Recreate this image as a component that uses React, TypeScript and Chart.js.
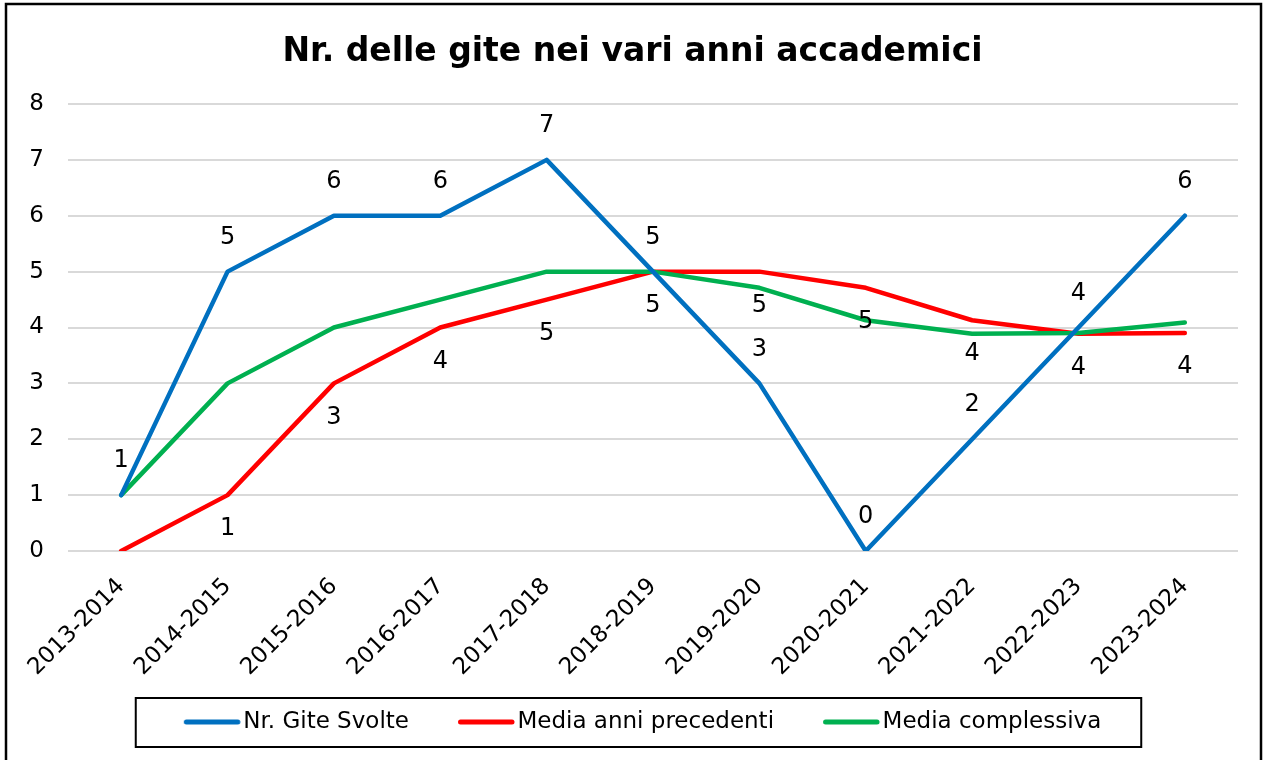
import React, { useEffect, useRef } from "react";
import { Chart, registerables } from "chart.js";

Chart.register(...registerables);

const categories = [
  "2013-2014", "2014-2015", "2015-2016", "2016-2017", "2017-2018", "2018-2019",
  "2019-2020", "2020-2021", "2021-2022", "2022-2023", "2023-2024",
];
const giteSvolte = [1, 5, 6, 6, 7, 5, 3, 0, 2, 4, 6];
const mediaPrecedenti = [0, 1, 3, 4, 4.5, 5, 5, 4.71, 4.13, 3.89, 3.9];
const mediaComplessiva = [1, 3, 4, 4.5, 5, 5, 4.71, 4.13, 3.89, 3.9, 4.09];
const giteLabels = ["1", "5", "6", "6", "7", "5", "3", "0", "2", "4", "6"];
const precedentiLabels = ["", "1", "3", "4", "5", "5", "5", "5", "4", "4", "4"];
const seriesNames = ["Nr. Gite Svolte", "Media anni precedenti", "Media complessiva"];
const yMin = 0;
const yMax = 8;
const yStep = 1;
const titleText = "Nr. delle gite nei vari anni accademici";

const BLUE = "#0070C0";
const RED = "#FF0000";
const GREEN = "#00B050";
const FONT = "'DejaVu Sans', Verdana, sans-serif";

const SAMPLE_GAP = 20; // blank space before each legend line sample
const BOX_W = 68;

function makeSample(color: string) {
  // image is centred on (x + BOX_W/2) = x + 34; canvas 160 wide spans x-46 .. x+114
  const c = document.createElement("canvas");
  c.width = 160;
  c.height = 8;
  const g = c.getContext("2d")!;
  g.strokeStyle = color;
  g.lineWidth = 5;
  g.lineCap = "round";
  g.beginPath();
  g.moveTo(66 + 2.5, 4);
  g.lineTo(122.5 - 2.5, 4);
  g.stroke();
  return c;
}

const decorPlugin = {
  id: "decor",
  beforeDraw(chart: any) {
    const ctx = chart.ctx;
    ctx.save();
    ctx.fillStyle = "#ffffff";
    ctx.fillRect(0, 0, chart.width, chart.height);
    ctx.restore();
  },
  afterDatasetsDraw(chart: any) {
    const ctx = chart.ctx;
    ctx.save();
    ctx.font = `24px ${FONT}`;
    ctx.fillStyle = "#000000";
    ctx.textAlign = "center";
    ctx.textBaseline = "middle";
    const m0 = chart.getDatasetMeta(0);
    m0.data.forEach((pt: any, i: number) => {
      const t = giteLabels[i];
      if (t) ctx.fillText(t, pt.x, pt.y - 34);
    });
    const m1 = chart.getDatasetMeta(1);
    m1.data.forEach((pt: any, i: number) => {
      const t = precedentiLabels[i];
      if (t) ctx.fillText(t, pt.x, pt.y + 34);
    });
    ctx.restore();
  },
  afterDraw(chart: any) {
    const ctx = chart.ctx;
    ctx.save();
    const hb = chart.legend && chart.legend.legendHitBoxes;
    if (hb && hb.length) {
      const first = hb[0];
      const last = hb[hb.length - 1];
      const cy = first.top + first.height / 2;
      const left = first.left + SAMPLE_GAP - 48;
      const right = last.left + last.width + 40;
      ctx.strokeStyle = "#000000";
      ctx.lineWidth = 2;
      ctx.strokeRect(left, cy - 24, right - left, 49);
    }
    ctx.strokeStyle = "#000000";
    ctx.lineWidth = 2.5;
    ctx.strokeRect(6, 4, chart.width - 8, chart.height + 20);
    ctx.restore();
  },
};

export default function App() {
  const ref = useRef<HTMLCanvasElement | null>(null);
  useEffect(() => {
    if (!ref.current) return;
    const lineCommon = {
      borderWidth: 4.5,
      pointRadius: 0,
      pointHoverRadius: 0,
      tension: 0,
      borderCapStyle: "round",
      borderJoinStyle: "round",
      fill: false,
    };
    const chart = new Chart(ref.current, {
      type: "line",
      data: {
        labels: categories,
        datasets: [
          { ...lineCommon, label: seriesNames[0], data: giteSvolte, borderColor: BLUE, backgroundColor: BLUE, pointStyle: makeSample(BLUE), order: 0 },
          { ...lineCommon, label: seriesNames[1], data: mediaPrecedenti, borderColor: RED, backgroundColor: RED, pointStyle: makeSample(RED), order: 2 },
          { ...lineCommon, label: seriesNames[2], data: mediaComplessiva, borderColor: GREEN, backgroundColor: GREEN, pointStyle: makeSample(GREEN), order: 1 },
        ],
      } as any,
      options: {
        responsive: false,
        animation: false,
        events: [],
        layout: { padding: { left: 2, right: 0, top: 0, bottom: 16.5 } },
        plugins: {
          tooltip: { enabled: false },
          title: {
            display: true,
            text: titleText,
            color: "#000000",
            font: { family: FONT, size: 33, weight: "bold" },
            padding: { top: 32.2, bottom: 32.2 },
          },
          legend: {
            display: true,
            position: "bottom",
            labels: {
              color: "#000000",
              font: { family: FONT, size: 23 },
              usePointStyle: true,
              pointStyleWidth: BOX_W,
              padding: 29,
              sort: (a: any, b: any) => a.datasetIndex - b.datasetIndex,
            },
          },
        },
        scales: {
          x: {
            offset: true,
            grid: { display: false, drawTicks: false },
            border: { display: false },
            ticks: {
              color: "#000000",
              font: { family: FONT, size: 23 },
              maxRotation: 45,
              minRotation: 45,
              padding: 22,
              autoSkip: false,
            },
            afterFit: (scale: any) => {
              scale.height = 130.5;
            },
          },
          y: {
            min: yMin,
            max: yMax,
            grid: { color: "#D9D9D9", lineWidth: 2, drawTicks: false },
            border: { display: false },
            ticks: {
              stepSize: yStep,
              color: "#000000",
              font: { family: FONT, size: 23 },
              padding: 24,
            },
            afterFit: (scale: any) => {
              scale.width = 66;
            },
          },
          yRight: {
            position: "right",
            min: yMin,
            max: yMax,
            grid: { display: false, drawTicks: false },
            border: { display: false },
            ticks: { display: false },
            afterFit: (scale: any) => {
              scale.width = 25;
            },
          },
        },
      } as any,
      plugins: [decorPlugin],
    });
    return () => chart.destroy();
  }, []);
  return (
    <div style={{ position: "absolute", left: 0, top: 0, width: 1263, height: 760, background: "#fff" }}>
      <canvas ref={ref} width={1263} height={760} style={{ display: "block", width: 1263, height: 760 }} />
    </div>
  );
}
